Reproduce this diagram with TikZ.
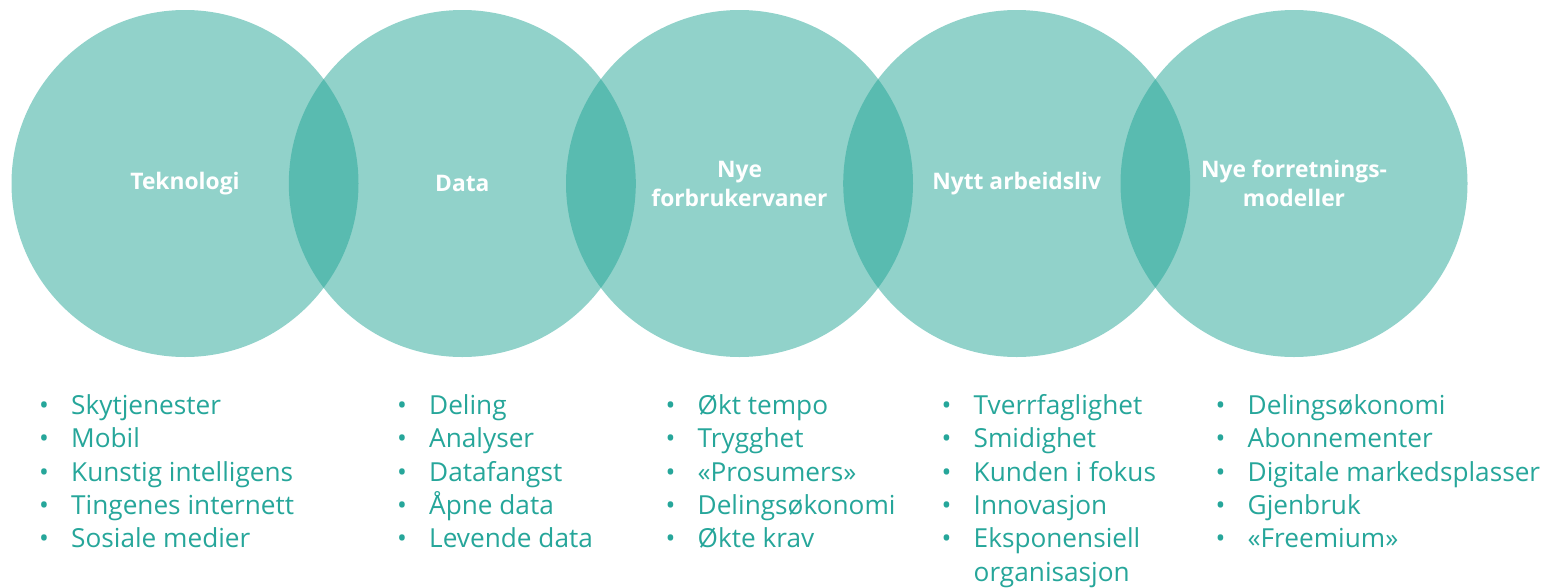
\documentclass[tikz,border=0pt]{standalone}
\usepackage{fontspec}
\setmainfont{Open Sans}
\definecolor{tealbase}{RGB}{35,165,150}
\definecolor{tealtext}{RGB}{38,166,154}
\tikzset{
  ring/.style={circle, minimum size=347pt, inner sep=0pt, fill=tealbase, fill opacity=0.5, text opacity=1,
    text=white, font=\bfseries\fontsize{22.8}{29}\selectfont, align=center},
  itemtext/.style={anchor=base west, inner sep=0pt, text=tealtext, font=\fontsize{26.2}{33.4}\selectfont}
}
\newcommand{\bul}{\makebox[32pt][l]{\textbullet}}
\begin{document}
\begin{tikzpicture}[x=1pt,y=-1pt]
\useasboundingbox (0,0) rectangle (1545,587);
\node[ring] (c1) at (185,183.5) {Teknologi};
\node[ring] (c2) at (462.3,183.5) {Data};
\node[ring] (c3) at (739.5,183.5) {Nye\\forbrukervaner};
\node[ring] (c4) at (1016.7,183.5) {Nytt arbeidsliv};
\node[ring] (c5) at (1294,183.5) {Nye forretnings-\\modeller};
\foreach \t [count=\i] in {Skytjenester,Mobil,Kunstig intelligens,Tingenes internett,Sosiale medier}
  \node[itemtext] (a\i) at (39,414.3+33.4*\i-33.4) {\bul\t};
\foreach \t [count=\i] in {Deling,Analyser,Datafangst,Åpne data,Levende data}
  \node[itemtext] (b\i) at (397,414.3+33.4*\i-33.4) {\bul\t};
\foreach \t [count=\i] in {Økt tempo,Trygghet,«Prosumers»,Delingsøkonomi,Økte krav}
  \node[itemtext] (d\i) at (665.5,414.3+33.4*\i-33.4) {\bul\t};
\foreach \t [count=\i] in {Tverrfaglighet,Smidighet,Kunden i fokus,Innovasjon,Eksponensiell}
  \node[itemtext] (e\i) at (941.5,414.3+33.4*\i-33.4) {\bul\t};
\node[itemtext] (e6) at (941.5,414.3+33.4*5) {\makebox[32pt][l]{}organisasjon};
\foreach \t [count=\i] in {Delingsøkonomi,Abonnementer,Digitale markedsplasser,Gjenbruk,«Freemium»}
  \node[itemtext] (f\i) at (1215.5,414.3+33.4*\i-33.4) {\bul\t};
\end{tikzpicture}
\end{document}
